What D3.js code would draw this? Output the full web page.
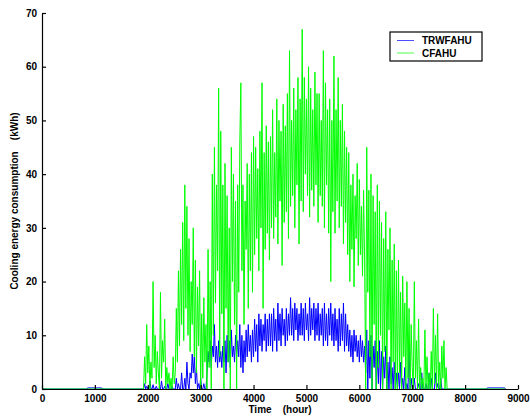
<!DOCTYPE html>
<html>
<head>
<meta charset="utf-8">
<script src="https://cdn.jsdelivr.net/npm/d3@7"></script>
<style>
  body { margin: 0; background: #fff; }
  svg { display: block; font-family: "Liberation Sans", Arial, sans-serif; }
</style>
</head>
<body>
<svg id="chart"></svg>
<script>
// Hourly cooling energy (kWh) at a 20 h step
const T0 = 1920;
const DT = 20;

const cfahuVals = [
  0, 6, 1, 12, 3, 8, 0, 5, 2, 20, 4, 10, 1, 7, 3,
  0, 18, 2, 9, 5, 13, 0, 4, 1, 3, 0, 2, 0, 6, 1,
  3, 15, 5, 22, 8, 26, 12, 31, 9, 38, 15, 34, 10, 28, 7,
  20, 12, 30, 6, 24, 3, 19, 8, 22, 0, 14, 2, 17, 5, 12,
  0, 26, 4, 20, 0, 40, 10, 45, 16, 38, 22, 56, 6, 48, 14,
  38, 0, 42, 15, 36, 5, 30, 0, 45, 20, 40, 12, 35, 0, 38,
  18, 46, 57, 22, 38, 12, 35, 26, 42, 15, 40, 22, 44, 18, 47,
  25, 45, 28, 41, 22, 48, 30, 57, 15, 44, 26, 49, 29, 46, 24,
  47, 30, 52, 28, 44, 32, 54, 27, 50, 35, 48, 23, 53, 31, 49,
  33, 55, 28, 63, 34, 50, 36, 56, 30, 52, 38, 58, 27, 54, 35,
  67, 33, 58, 40, 54, 36, 60, 32, 56, 37, 52, 34, 59, 38, 55,
  31, 55, 36, 50, 34, 63, 30, 57, 38, 52, 29, 54, 20, 50, 33,
  62, 29, 52, 35, 58, 30, 50, 34, 53, 27, 48, 31, 45, 25, 44,
  20, 38, 26, 40, 19, 36, 28, 42, 23, 39, 25, 34, 21, 37, 24,
  0, 45, 18, 37, 6, 40, 0, 36, 12, 33, 0, 38, 4, 35, 10,
  31, 0, 28, 7, 33, 0, 26, 11, 30, 0, 24, 5, 27, 0, 22,
  0, 24, 3, 18, 0, 21, 6, 16, 0, 20, 2, 15, 0, 12, 4,
  0, 20, 2, 9, 0, 13, 0, 4, 0, 2, 0, 11, 0, 6, 0,
  3, 0, 7, 0, 15, 1, 10, 0, 14, 0, 5, 0, 8, 2, 9,
  0, 4, 0, 0
];

const trwfahuVals = [
  0, 1, 0, 0.5, 0, 0, 1.5, 0, 0, 0.8, 0, 0, 0.5, 0, 0,
  0, 0, 1.5, 0, 0, 0.5, 0, 0, 1, 0, 0, 0, 0.5, 0, 0,
  0, 2, 0, 1, 0, 0, 3, 0, 0, 2, 0, 5, 1, 0, 3,
  2, 6.5, 3, 6, 1, 4, 0, 1, 0, 2, 0, 0, 1, 0, 0,
  3, 7, 5, 9, 4, 8, 6, 12, 5, 8, 4, 9, 5, 7, 4,
  8, 5, 9, 3, 10, 5, 9, 4, 11, 6, 8, 5, 10, 6, 9,
  6, 12, 4, 10, 3, 9, 5, 11, 6, 12, 7, 10, 5, 11, 6,
  13, 7, 12, 5, 14, 8, 13, 7, 12, 9, 14, 7, 13, 8, 14,
  8, 14, 7, 15, 9, 13, 7, 16, 9, 14, 8, 15, 10, 13, 8,
  15, 9, 14, 10, 17, 10, 15, 9, 16, 11, 15, 9, 14, 10, 16,
  10, 15, 9, 16, 11, 14, 9, 17, 10, 15, 11, 16, 9, 15, 10,
  16, 9, 14, 10, 15, 8, 16, 9, 14, 8, 15, 10, 16, 9, 14,
  8, 15, 9, 13, 7, 15, 8, 14, 9, 16, 7, 14, 8, 12, 7,
  11, 6, 10, 5, 11, 7, 10, 6, 9, 5, 10, 6, 9, 5, 8,
  3, 11, 0, 9, 2, 10, 0, 8, 4, 9, 0, 7, 1, 9, 0,
  7, 0, 6, 2, 8, 0, 5, 0, 6, 1, 4, 0, 5, 0, 3,
  0, 3, 0, 5, 0, 2, 0, 4, 0, 1, 0, 8, 0, 2, 0,
  0, 2, 0, 0, 0, 1, 0, 0, 3, 0, 0, 0, 1, 0, 0,
  3, 0, 2, 0, 0, 0, 3, 0, 1, 0, 0, 2, 0, 0, 0,
  0, 0, 0, 0
];

// idle parts of the year, [hour, kWh]
const cfahuBefore = [[0, 0], [1900, 0]];
const cfahuAfter = [[7700, 0], [8760, 0]];
const trwfahuBefore = [[0, 0], [850, 0], [860, 0.2], [1130, 0.2], [1140, 0], [1900, 0]];
const trwfahuAfter = [[7700, 0], [8410, 0], [8420, 0.2], [8750, 0.2], [8760, 0]];

const xTicks = [0, 1000, 2000, 3000, 4000, 5000, 6000, 7000, 8000, 9000];
const yTicks = [0, 10, 20, 30, 40, 50, 60, 70];
const seriesNames = ['TRWFAHU', 'CFAHU'];
const seriesColors = ['#0000ff', '#00ff00'];

function toPoints(vals, before, after) {
  const mid = vals.map((v, i) => [T0 + i * DT, v]);
  return before.concat(mid, after);
}

const width = 530, height = 419;
const margin = { top: 13, right: 12, bottom: 30, left: 42 };

const svg = d3.select('#chart')
  .attr('width', width)
  .attr('height', height);

const x = d3.scaleLinear().domain([0, 9000]).range([margin.left, width - margin.right]);
const y = d3.scaleLinear().domain([0, 70]).range([height - margin.bottom, margin.top]);

const line = d3.line()
  .x(d => x(d[0]))
  .y(d => y(d[1]));

const series = [
  toPoints(trwfahuVals, trwfahuBefore, trwfahuAfter),
  toPoints(cfahuVals, cfahuBefore, cfahuAfter)
];

svg.append('g')
  .selectAll('path')
  .data(series)
  .join('path')
  .attr('d', line)
  .attr('fill', 'none')
  .attr('stroke', (d, i) => seriesColors[i])
  .attr('stroke-width', 1)
  .attr('stroke-linejoin', 'bevel');

// Axes, ticks pointing inward like MATLAB
const xAxis = svg.append('g')
  .attr('transform', `translate(0,${y(0)})`)
  .call(d3.axisBottom(x).tickValues(xTicks).tickFormat(d3.format('d'))
    .tickSizeInner(-4).tickSizeOuter(0).tickPadding(6));

const yAxis = svg.append('g')
  .attr('transform', `translate(${x(0)},0)`)
  .call(d3.axisLeft(y).tickValues(yTicks).tickFormat(d3.format('d'))
    .tickSizeInner(-4).tickSizeOuter(0).tickPadding(5));

[xAxis, yAxis].forEach(a => {
  a.select('.domain').attr('stroke', '#000').attr('stroke-width', 1.2);
  a.selectAll('.tick line').attr('stroke', '#000').attr('stroke-width', 1.2);
  a.selectAll('.tick text')
    .attr('fill', '#000')
    .attr('font-size', 10)
    .attr('font-weight', 'bold')
    .attr('font-family', '"Liberation Sans", Arial, sans-serif');
});

// Axis labels
svg.append('text')
  .attr('x', (x(0) + x(9000)) / 2)
  .attr('y', 413)
  .attr('text-anchor', 'middle')
  .attr('font-size', 10)
  .attr('font-weight', 'bold')
  .style('white-space', 'pre')
  .text('Time    (hour)');

svg.append('text')
  .attr('transform', `translate(18,${(y(0) + y(70)) / 2}) rotate(-90)`)
  .attr('text-anchor', 'middle')
  .attr('font-size', 10)
  .attr('font-weight', 'bold')
  .style('white-space', 'pre')
  .text('Cooling energy consumption    (kWh)');

// Legend
const legend = svg.append('g').attr('transform', 'translate(390,32)');
legend.append('rect')
  .attr('width', 92)
  .attr('height', 29)
  .attr('fill', '#fff')
  .attr('stroke', '#000')
  .attr('stroke-width', 1.2);

const items = legend.selectAll('g.item')
  .data(seriesNames)
  .join('g')
  .attr('class', 'item')
  .attr('transform', (d, i) => `translate(0,${8.5 + i * 12.5})`);

items.append('line')
  .attr('x1', 7)
  .attr('x2', 24)
  .attr('stroke', (d, i) => seriesColors[i])
  .attr('stroke-opacity', 0.7)
  .attr('stroke-width', 1);

items.append('text')
  .attr('x', 32)
  .attr('y', 3.5)
  .attr('font-size', 10)
  .attr('font-weight', 'bold')
  .text(d => d);
</script>
</body>
</html>
